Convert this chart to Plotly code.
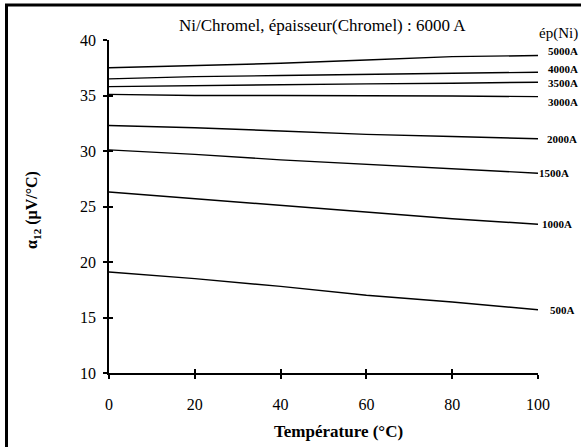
import plotly.graph_objects as go

# ---- data ----
temperature = [0, 20, 40, 60, 80, 100]
series_names = ["5000A", "4000A", "3500A", "3000A", "2000A", "1500A", "1000A", "500A"]
s5000 = [37.5, 37.7, 37.9, 38.2, 38.5, 38.6]
s4000 = [36.5, 36.7, 36.8, 36.9, 37.0, 37.1]
s3500 = [35.8, 35.9, 36.0, 36.05, 36.1, 36.2]
s3000 = [35.1, 35.0, 35.0, 35.0, 34.95, 34.9]
s2000 = [32.3, 32.1, 31.8, 31.5, 31.3, 31.1]
s1500 = [30.1, 29.7, 29.2, 28.8, 28.4, 28.0]
s1000 = [26.3, 25.7, 25.1, 24.5, 23.9, 23.4]
s500 = [19.1, 18.5, 17.8, 17.0, 16.4, 15.7]
series_values = [s5000, s4000, s3500, s3000, s2000, s1500, s1000, s500]
x_ticks = [0, 20, 40, 60, 80, 100]
y_ticks = [10, 15, 20, 25, 30, 35, 40]

title_text = "Ni/Chromel, épaisseur(Chromel) : 6000 A"
x_title = "Température (°C)"
y_title = "α<sub>12</sub> (μV/°C)"
legend_title = "ép(Ni)"

# ---- style ----
SERIF = "Liberation Serif"
label_yshift = [5, 3, -1, -5, 0, 0, 0, 0]
label_x = [1.019, 1.019, 1.019, 1.019, 1.016, 0.998, 1.005, 1.023]

fig = go.Figure()
for name, vals in zip(series_names, series_values):
    fig.add_trace(go.Scatter(x=temperature, y=vals, mode="lines", name=name,
                             line=dict(color="black", width=1.4), showlegend=False))

# invisible trace on second axes to get crossing ticks
fig.add_trace(go.Scatter(x=[0], y=[10], yaxis="y2", xaxis="x2", mode="markers",
                         marker=dict(opacity=0), showlegend=False, hoverinfo="skip"))

axis_common = dict(showgrid=False, zeroline=False, linecolor="black", linewidth=1.5,
                   ticks="outside", tickcolor="black", tickwidth=1.5, ticklen=4,
                   tickfont=dict(family=SERIF, size=16, color="black"))

fig.update_layout(
    width=581, height=447,
    margin=dict(l=109, r=43, t=40, b=74),
    paper_bgcolor="white", plot_bgcolor="white",
    font=dict(family=SERIF, color="black"),
    xaxis=dict(range=[0, 100], tickvals=x_ticks, showline=True, ticklabelstandoff=12,
               **axis_common),
    yaxis=dict(range=[10, 40], tickvals=y_ticks, showline=True, ticklabelstandoff=4,
               **axis_common),
    xaxis2=dict(range=[0, 100], tickvals=x_ticks, overlaying="x", side="bottom",
                showticklabels=False, showgrid=False, zeroline=False, showline=False,
                ticks="inside", ticklen=4, tickwidth=1.5, tickcolor="black"),
    yaxis2=dict(range=[10, 40], tickvals=y_ticks, overlaying="y", side="left",
                showticklabels=False, showgrid=False, zeroline=False, showline=False,
                ticks="inside", ticklen=4, tickwidth=1.5, tickcolor="black"),
    showlegend=False,
)

annotations = [
    dict(text=title_text, xref="paper", yref="paper", x=0.497, y=1.045,
         showarrow=False, xanchor="center", yanchor="middle",
         font=dict(family=SERIF, size=17, color="black")),
    dict(text="<b>" + x_title + "</b>", xref="paper", yref="paper", x=0.535, y=-0.177,
         showarrow=False, xanchor="center", yanchor="middle",
         font=dict(family=SERIF, size=17, color="black")),
    dict(text="<b>" + y_title + "</b>", xref="paper", yref="paper", x=-0.177, y=0.49,
         showarrow=False, xanchor="center", yanchor="middle", textangle=-90,
         font=dict(family=SERIF, size=16, color="black")),
    dict(text=legend_title, xref="paper", yref="paper", x=0.997, y=1.02,
         showarrow=False, xanchor="left", yanchor="middle",
         font=dict(family=SERIF, size=15, color="black")),
]
for name, vals, ys, lx in zip(series_names, series_values, label_yshift, label_x):
    annotations.append(dict(text="<b>" + name + "</b>", xref="paper", yref="y",
                            x=lx, y=vals[-1], yshift=ys, showarrow=False,
                            xanchor="left", yanchor="middle",
                            font=dict(family=SERIF, size=11, color="black")))
fig.update_layout(annotations=annotations)

# outer frame (extends beyond the right and bottom edges)
fig.add_shape(type="rect", xref="paper", yref="paper",
              x0=(6.5 - 109) / 429, x1=(640 - 109) / 429,
              y0=(373 - 500) / 333, y1=(373 - 5) / 333,
              line=dict(color="black", width=3), fillcolor="rgba(0,0,0,0)", layer="above")

fig.write_html("out.html")
